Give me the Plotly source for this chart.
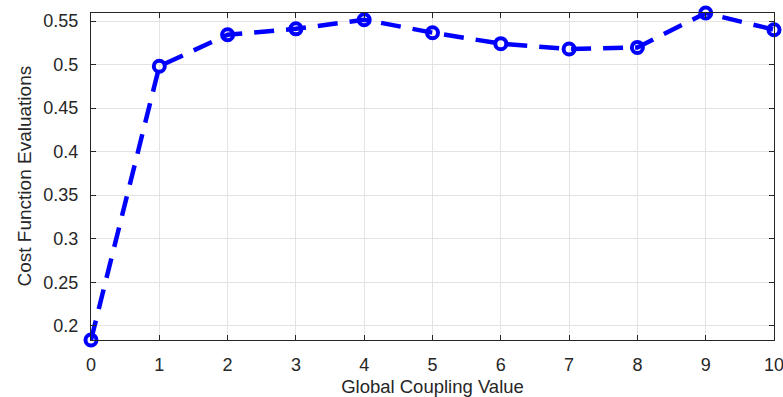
import plotly.graph_objects as go

x_vals = [0, 1, 2, 3, 4, 5, 6, 7, 8, 9, 10]
y_vals = [0.1836, 0.498, 0.5342, 0.541, 0.5515, 0.5366, 0.524, 0.5178, 0.5197, 0.5592, 0.540]
y_ticks = [0.2, 0.25, 0.3, 0.35, 0.4, 0.45, 0.5, 0.55]
y_ticklabels = ["0.2", "0.25", "0.3", "0.35", "0.4", "0.45", "0.5", "0.55"]
x_title = "Global Coupling Value"
y_title = "Cost Function Evaluations"

FONT = "Liberation Sans, Arial, Helvetica, sans-serif"

fig = go.Figure()
fig.add_trace(go.Scatter(
    x=x_vals, y=y_vals, mode="lines+markers",
    line=dict(color="#0000FF", width=4.5, dash="20px,12px"),
    marker=dict(symbol="circle-open", size=11, color="#0000FF", line=dict(width=4, color="#0000FF")),
    cliponaxis=False,
))

axis_common = dict(
    showline=True, linecolor="#262626", linewidth=1, mirror="ticks",
    ticks="inside", ticklen=5, tickcolor="#262626",
    showgrid=True, gridcolor="#E3E3E3", gridwidth=1, zeroline=False,
    tickfont=dict(family=FONT, size=18, color="#262626"),
    ticklabeloverflow="allow", automargin=False,
)

fig.update_layout(
    width=783, height=397,
    margin=dict(l=91, r=9, t=13, b=57),
    paper_bgcolor="white", plot_bgcolor="white",
    showlegend=False,
    xaxis=dict(range=[0, 10], tickvals=x_vals, ticklabelstandoff=8,
               title=dict(text=x_title,
               font=dict(family=FONT, size=18.5, color="#262626")), **axis_common),
    yaxis=dict(range=[0.1836, 0.5592], tickvals=y_ticks, ticktext=y_ticklabels, ticklabelstandoff=8,
               **axis_common),
    annotations=[dict(
        text=y_title, xref="paper", yref="paper", x=0, y=0.5,
        xanchor="center", yanchor="middle", xshift=-67, textangle=-90,
        showarrow=False, font=dict(family=FONT, size=19, color="#262626"),
    )],
)

fig.write_html("out.html")
